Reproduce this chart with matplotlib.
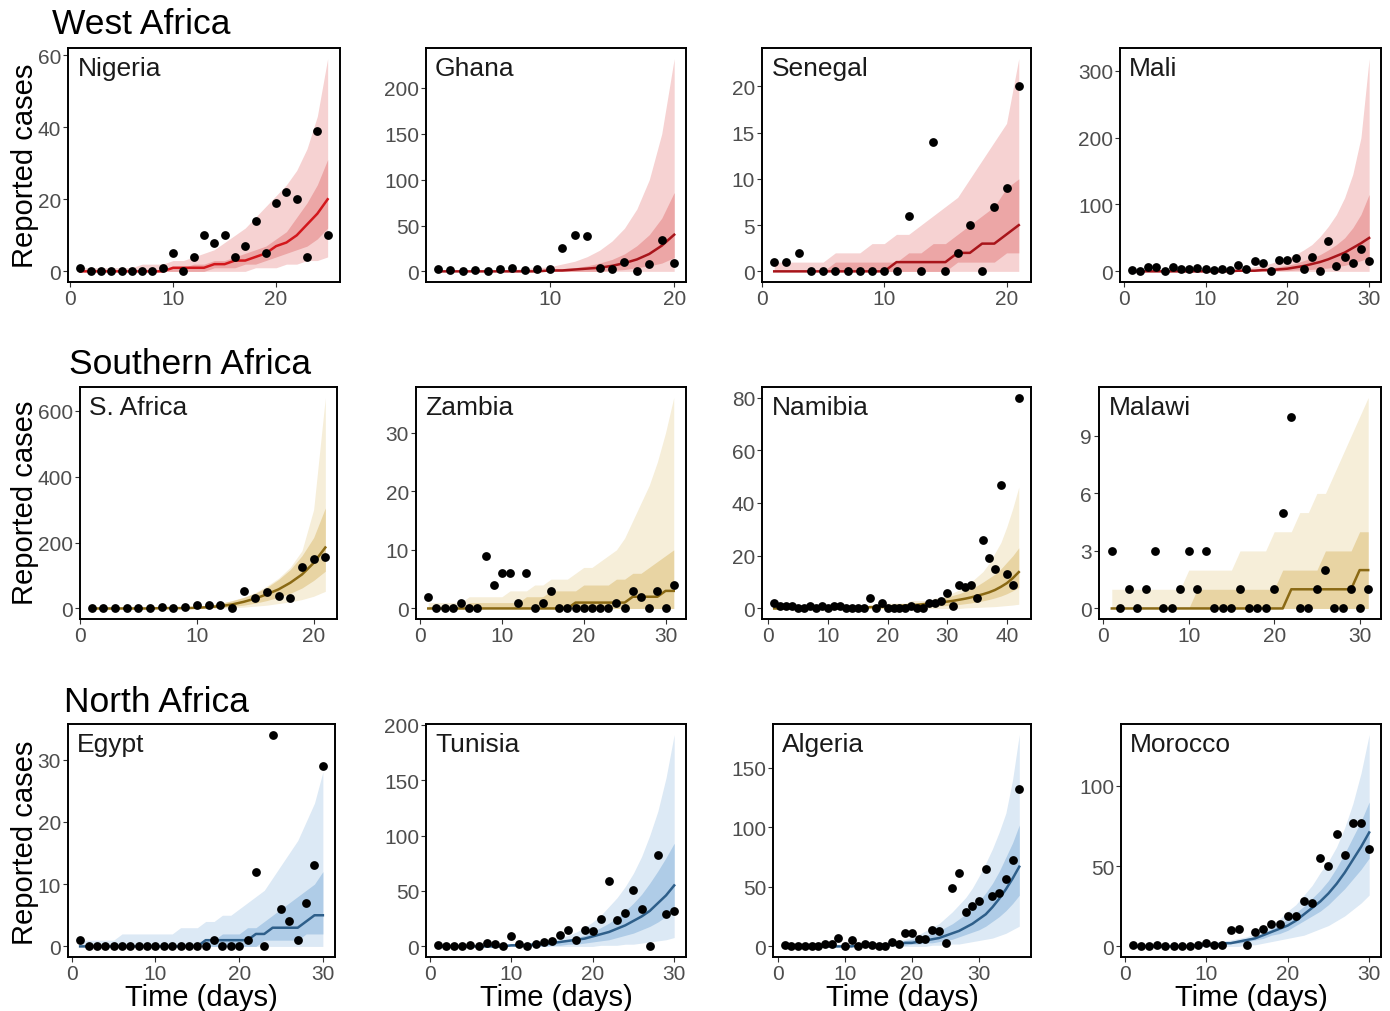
import numpy as np
import matplotlib
matplotlib.use("Agg")
import matplotlib.pyplot as plt
from matplotlib.ticker import MultipleLocator

plt.rcParams['font.family'] = ['Liberation Sans', 'DejaVu Sans']

# -----------------------------
# Data (daily reported cases, model median and 50% / 95% bands)
# -----------------------------
nigeria_cases = [1, 0, 0, 0, 0, 0, 0, 0, 1, 5, 0, 4, 10, 8, 10, 4, 7, 14, 5, 19, 22, 20, 4, 39, 10]
nigeria_med = [0, 0, 0, 0, 0, 0, 0, 0, 0, 1, 1, 1, 1, 2, 2, 3, 3, 4, 5, 7, 8, 10, 13, 16, 20]
nigeria_lo95 = [0, 0, 0, 0, 0, 0, 0, 0, 0, 0, 0, 0, 0, 0, 0, 0, 0, 1, 1, 1, 2, 2, 3, 3, 4]
nigeria_lo50 = [0, 0, 0, 0, 0, 0, 0, 0, 0, 0, 0, 0, 0, 1, 1, 1, 2, 2, 3, 4, 5, 6, 7, 9, 12]
nigeria_hi50 = [0, 0, 0, 0, 0, 0, 0, 0, 1, 1, 1, 2, 2, 3, 3, 4, 5, 6, 7, 9, 11, 15, 19, 24, 31]
nigeria_hi95 = [1, 1, 1, 1, 1, 1, 2, 2, 2, 3, 3, 4, 5, 6, 8, 10, 12, 15, 18, 21, 24, 28, 34, 43, 59]

ghana_cases = [3, 2, 0, 1, 0, 3, 4, 2, 3, 3, 26, 40, 39, 4, 3, 10, 0, 8, 34, 9]
ghana_med = [0, 0, 0, 0, 0, 0, 0, 0, 0, 1, 1, 2, 3, 4, 6, 9, 13, 19, 28, 40]
ghana_lo95 = [0, 0, 0, 0, 0, 0, 0, 0, 0, 0, 0, 0, 0, 0, 0, 0, 0, 0, 0, 0]
ghana_lo50 = [0, 0, 0, 0, 0, 0, 0, 0, 0, 0, 0, 0, 0, 0, 1, 2, 4, 6, 9, 15]
ghana_hi50 = [0, 0, 0, 0, 0, 0, 1, 1, 1, 2, 3, 4, 6, 9, 13, 19, 28, 40, 58, 86]
ghana_hi95 = [1, 1, 1, 1, 1, 1, 2, 3, 4, 5, 8, 11, 16, 23, 33, 47, 68, 100, 150, 232]

senegal_cases = [1, 1, 2, 0, 0, 0, 0, 0, 0, 0, 0, 6, 0, 14, 0, 2, 5, 0, 7, 9, 20]
senegal_med = [0, 0, 0, 0, 0, 0, 0, 0, 0, 0, 1, 1, 1, 1, 1, 2, 2, 3, 3, 4, 5]
senegal_lo95 = [0, 0, 0, 0, 0, 0, 0, 0, 0, 0, 0, 0, 0, 0, 0, 0, 0, 0, 0, 0, 0]
senegal_lo50 = [0, 0, 0, 0, 0, 0, 0, 0, 0, 0, 0, 0, 0, 0, 0, 1, 1, 1, 1, 2, 2]
senegal_hi50 = [0, 0, 0, 0, 0, 1, 1, 1, 1, 1, 1, 2, 2, 3, 3, 4, 5, 6, 7, 9, 10]
senegal_hi95 = [1, 1, 1, 1, 1, 2, 2, 2, 3, 3, 4, 4, 5, 6, 7, 8, 10, 12, 14, 16, 23]

mali_cases = [2, 1, 7, 7, 0, 7, 3, 3, 5, 3, 2, 4, 2, 9, 3, 15, 13, 0, 17, 17, 20, 4, 22, 0, 45, 8, 21, 12, 34, 16]
mali_med = [0, 0, 0, 0, 0, 0, 0, 0, 0, 0, 0, 0, 0, 1, 1, 1, 2, 2, 3, 4, 6, 8, 11, 14, 18, 23, 28, 35, 42, 50]
mali_lo95 = [0, 0, 0, 0, 0, 0, 0, 0, 0, 0, 0, 0, 0, 0, 0, 0, 0, 0, 0, 0, 0, 0, 0, 0, 0, 0, 0, 0, 0, 0]
mali_lo50 = [0, 0, 0, 0, 0, 0, 0, 0, 0, 0, 0, 0, 0, 0, 0, 0, 0, 1, 1, 1, 2, 2, 3, 4, 5, 7, 9, 12, 16, 20]
mali_hi50 = [0, 0, 0, 0, 0, 0, 0, 0, 0, 1, 1, 1, 1, 2, 2, 3, 4, 5, 7, 9, 12, 16, 20, 25, 32, 40, 50, 65, 85, 115]
mali_hi95 = [1, 1, 1, 1, 1, 1, 1, 1, 2, 2, 2, 3, 3, 4, 5, 7, 9, 12, 16, 20, 25, 32, 40, 52, 67, 85, 110, 145, 200, 318]

safrica_cases = [0, 0, 0, 1, 0, 2, 3, 2, 5, 12, 11, 10, 0, 54, 33, 50, 38, 33, 127, 150, 155]
safrica_med = [0, 0, 0, 0, 0, 0, 1, 1, 1, 2, 4, 7, 12, 20, 30, 43, 58, 78, 103, 138, 185]
safrica_lo95 = [0, 0, 0, 0, 0, 0, 0, 0, 0, 0, 0, 1, 2, 4, 7, 10, 15, 20, 27, 37, 52]
safrica_lo50 = [0, 0, 0, 0, 0, 0, 0, 0, 0, 1, 2, 3, 6, 10, 16, 24, 34, 46, 62, 85, 113]
safrica_hi50 = [0, 0, 0, 0, 1, 1, 1, 2, 3, 5, 9, 15, 23, 33, 46, 64, 88, 118, 160, 215, 305]
safrica_hi95 = [1, 1, 1, 1, 1, 2, 2, 3, 4, 6, 10, 16, 24, 34, 48, 68, 92, 125, 175, 300, 640]

zambia_cases = [2, 0, 0, 0, 1, 0, 0, 9, 4, 6, 6, 1, 6, 0, 1, 3, 0, 0, 0, 0, 0, 0, 0, 1, 0, 3, 2, 0, 3, 0, 4]
zambia_med = [0, 0, 0, 0, 0, 0, 0, 0, 0, 0, 0, 0, 0, 0, 0, 0, 0, 0, 1, 1, 1, 1, 1, 1, 1, 2, 2, 2, 2, 3, 3]
zambia_lo95 = [0, 0, 0, 0, 0, 0, 0, 0, 0, 0, 0, 0, 0, 0, 0, 0, 0, 0, 0, 0, 0, 0, 0, 0, 0, 0, 0, 0, 0, 0, 0]
zambia_lo50 = [0, 0, 0, 0, 0, 0, 0, 0, 0, 0, 0, 0, 0, 0, 0, 0, 0, 0, 0, 0, 0, 0, 0, 0, 0, 0, 0, 0, 0, 0, 0]
zambia_hi50 = [0, 0, 0, 0, 0, 1, 1, 1, 1, 1, 1, 1, 2, 2, 2, 3, 3, 3, 3, 4, 4, 4, 4, 5, 5, 6, 6, 7, 8, 9, 10]
zambia_hi95 = [1, 1, 1, 1, 1, 2, 2, 2, 2, 2, 3, 3, 3, 4, 4, 5, 5, 5, 6, 7, 7, 8, 9, 10, 12, 15, 18, 21, 25, 30, 36]

namibia_cases = [2, 1, 1, 1, 0, 0, 1, 0, 1, 0, 1, 1, 0, 0, 0, 0, 4, 0, 2, 0, 0,
                 0, 0, 1, 0, 0, 2, 2, 3, 6, 1, 9, 8, 9, 4, 26, 19, 15, 47, 13, 9, 80]
namibia_med = [0, 0, 0, 0, 0, 0, 0, 0, 0, 0, 0, 0, 0, 0, 0, 0, 0.5, 0.6, 0.7, 0.8, 0.9,
               1.0, 1.1, 1.2, 1.4, 1.6, 1.8, 2.0, 2.3, 2.6, 2.9, 3.3, 3.7, 4.2, 4.8, 5.4, 6.1, 7.0, 8.2, 9.6, 11.5, 13.8]
namibia_lo95 = [0, 0, 0, 0, 0, 0, 0, 0, 0, 0, 0, 0, 0, 0, 0, 0, 0, 0, 0, 0, 0,
                0, 0, 0, 0, 0, 0, 0, 0, 0, 0, 0, 0.2, 0.3, 0.4, 0.5, 0.6, 0.7, 0.9, 1.1, 1.3, 1.6]
namibia_lo50 = [0, 0, 0, 0, 0, 0, 0, 0, 0, 0, 0, 0, 0, 0, 0, 0, 0, 0, 0, 0, 0,
                0, 0, 0, 0.5, 0.6, 0.7, 0.8, 1, 1.1, 1.3, 1.5, 1.8, 2.1, 2.5, 2.9, 3.4, 4, 4.7, 5.6, 6.7, 8]
namibia_hi50 = [0.5, 0.5, 0.5, 0.5, 0.5, 0.5, 0.5, 0.5, 0.5, 0.5, 0.5, 0.5, 0.5, 0.5, 0.5, 0.5, 0.5, 1, 1.1, 1.2, 1.4,
                1.5, 1.7, 2.0, 2.2, 2.5, 2.9, 3.3, 3.8, 4.3, 5.0, 5.6, 6.5, 7.5, 8.6, 10, 11.5, 13, 15, 17.5, 20, 23]
namibia_hi95 = [1, 1, 1, 1, 1, 1, 1, 1, 1, 1, 1, 1, 1, 1, 1, 1, 1, 1, 2, 2, 2,
                2, 2, 3, 3, 3, 3, 4, 4, 5, 6, 7, 8, 10, 12, 14, 17, 21, 25, 31, 38, 46]

malawi_cases = [3, 0, 1, 0, 1, 3, 0, 0, 1, 3, 1, 3, 0, 0, 0, 1, 0, 0, 0, 1, 5, 10, 0, 0, 1, 2, 0, 0, 1, 0, 1]
malawi_med = [0, 0, 0, 0, 0, 0, 0, 0, 0, 0, 0, 0, 0, 0, 0, 0, 0, 0, 0, 0, 0, 1, 1, 1, 1, 1, 1, 1, 1, 2, 2]
malawi_lo95 = [0, 0, 0, 0, 0, 0, 0, 0, 0, 0, 0, 0, 0, 0, 0, 0, 0, 0, 0, 0, 0, 0, 0, 0, 0, 0, 0, 0, 0, 0, 0]
malawi_lo50 = [0, 0, 0, 0, 0, 0, 0, 0, 0, 0, 0, 0, 0, 0, 0, 0, 0, 0, 0, 0, 0, 0, 0, 0, 0, 0, 0, 0, 0, 0, 0]
malawi_hi50 = [0, 0, 0, 0, 0, 0, 0, 0, 0, 0, 1, 1, 1, 1, 1, 1, 1, 1, 1, 1, 2, 2, 2, 2, 2, 3, 3, 3, 3, 4, 4]
malawi_hi95 = [1, 1, 1, 1, 1, 1, 1, 1, 1, 2, 2, 2, 2, 2, 2, 3, 3, 3, 3, 4, 4, 4, 5, 5, 6, 6, 7, 8, 9, 10, 11]

egypt_cases = [1, 0, 0, 0, 0, 0, 0, 0, 0, 0, 0, 0, 0, 0, 0, 0, 1, 0, 0, 0, 1, 12, 0, 34, 6, 4, 1, 7, 13, 29]
egypt_med = [0, 0, 0, 0, 0, 0, 0, 0, 0, 0, 0, 0, 0, 0, 0, 1, 1, 1, 1, 1, 1, 2, 2, 3, 3, 3, 3, 4, 5, 5]
egypt_lo95 = [0, 0, 0, 0, 0, 0, 0, 0, 0, 0, 0, 0, 0, 0, 0, 0, 0, 0, 0, 0, 0, 0, 0, 0, 0, 0, 0, 0, 0, 0]
egypt_lo50 = [0, 0, 0, 0, 0, 0, 0, 0, 0, 0, 0, 0, 0, 0, 0, 0, 0, 0, 0, 0, 0, 0, 1, 1, 1, 1, 1, 2, 2, 2]
egypt_hi50 = [0, 0, 0, 0, 0, 0, 0, 0, 0, 0, 0, 0, 0, 0, 0, 1, 1, 2, 2, 2, 3, 3, 4, 5, 6, 7, 8, 9, 10, 12]
egypt_hi95 = [1, 1, 1, 1, 1, 2, 2, 2, 2, 2, 2, 2, 3, 3, 3, 4, 4, 5, 5, 6, 7, 8, 9, 11, 13, 15, 17, 20, 23, 28]

tunisia_cases = [1, 0, 0, 0, 1, 0, 3, 2, 0, 9, 2, 0, 2, 4, 5, 10, 15, 6, 15, 14, 25, 59, 24, 30, 51, 34, 0, 82, 29, 32]
tunisia_med = [0, 0, 0, 0, 0, 0, 0, 0, 0, 1, 1, 1, 2, 2, 3, 4, 5, 6, 7, 9, 11, 13, 16, 19, 23, 27, 32, 39, 46, 55]
tunisia_lo95 = [0, 0, 0, 0, 0, 0, 0, 0, 0, 0, 0, 0, 0, 0, 0, 0, 0, 0, 0, 0, 1, 1, 1, 2, 2, 3, 4, 5, 6, 8]
tunisia_lo50 = [0, 0, 0, 0, 0, 0, 0, 0, 0, 0, 0, 0, 0, 0, 1, 1, 2, 2, 3, 4, 5, 6, 8, 10, 12, 15, 18, 22, 27, 32]
tunisia_hi50 = [0, 0, 0, 0, 0, 0, 1, 1, 1, 1, 1, 2, 2, 3, 4, 5, 6, 8, 10, 13, 17, 21, 26, 32, 39, 47, 57, 68, 80, 93]
tunisia_hi95 = [1, 1, 1, 1, 1, 1, 1, 2, 2, 2, 2, 3, 4, 5, 6, 8, 10, 13, 17, 22, 28, 36, 44, 54, 66, 81, 100, 122, 152, 191]

algeria_cases = [1, 0, 0, 0, 0, 0, 2, 2, 7, 0, 5, 0, 2, 1, 0, 0, 4, 2, 11, 11,
                 6, 6, 14, 13, 3, 49, 62, 29, 34, 38, 65, 42, 45, 57, 73, 132]
algeria_med = [0, 0, 0, 0, 0, 0, 0, 0, 0, 0, 0, 1, 1, 1, 1, 1, 2, 2, 3, 3,
               4, 5, 6, 7, 9, 11, 13, 16, 19, 23, 27, 33, 40, 48, 57, 67]
algeria_lo95 = [0, 0, 0, 0, 0, 0, 0, 0, 0, 0, 0, 0, 0, 0, 0, 0, 0, 0, 0, 0,
                0, 0, 1, 1, 1, 2, 2, 3, 4, 5, 6, 7, 9, 11, 14, 17]
algeria_lo50 = [0, 0, 0, 0, 0, 0, 0, 0, 0, 0, 0, 0, 0, 0, 0, 0, 1, 1, 1, 2,
                2, 3, 3, 4, 5, 6, 8, 10, 12, 14, 17, 21, 25, 30, 36, 43]
algeria_hi50 = [0, 0, 0, 0, 0, 0, 0, 0, 0, 1, 1, 1, 1, 1, 2, 2, 3, 4, 5, 6,
                7, 9, 11, 13, 16, 19, 23, 27, 32, 38, 45, 53, 63, 75, 87, 102]
algeria_hi95 = [1, 1, 1, 1, 1, 1, 1, 1, 1, 2, 2, 2, 2, 2, 3, 3, 4, 5, 6, 8,
                10, 13, 16, 19, 24, 29, 35, 41, 49, 59, 70, 82, 96, 112, 140, 178]

morocco_cases = [1, 0, 0, 1, 0, 0, 0, 0, 1, 2, 1, 1, 10, 11, 1, 9, 11, 14, 14, 19, 19, 28, 27, 55, 50, 70, 57, 77, 77, 61]
morocco_med = [0, 0, 0, 0, 0, 0, 0, 0, 1, 1, 1, 2, 2, 3, 4, 5, 7, 9, 11, 13, 16, 20, 24, 28, 33, 39, 46, 54, 62, 71]
morocco_lo95 = [0, 0, 0, 0, 0, 0, 0, 0, 0, 0, 0, 0, 0, 0, 1, 1, 2, 3, 4, 5, 6, 7, 9, 11, 13, 16, 19, 23, 27, 32]
morocco_lo50 = [0, 0, 0, 0, 0, 0, 0, 0, 0, 0, 0, 1, 2, 2, 3, 4, 5, 7, 8, 10, 13, 16, 19, 22, 26, 31, 36, 42, 48, 55]
morocco_hi50 = [0, 0, 0, 0, 0, 0, 0, 1, 1, 1, 1, 2, 3, 4, 5, 6, 8, 11, 14, 17, 21, 25, 30, 35, 41, 49, 58, 68, 78, 90]
morocco_hi95 = [1, 1, 1, 1, 1, 1, 1, 1, 2, 2, 2, 3, 4, 5, 6, 8, 10, 13, 17, 22, 26, 32, 38, 46, 53, 62, 74, 89, 108, 132]

regions = ["West Africa", "Southern Africa", "North Africa"]
countries = [
    ["Nigeria", "Ghana", "Senegal", "Mali"],
    ["S. Africa", "Zambia", "Namibia", "Malawi"],
    ["Egypt", "Tunisia", "Algeria", "Morocco"],
]
series = {
    "Nigeria": (nigeria_cases, nigeria_med, nigeria_lo95, nigeria_lo50, nigeria_hi50, nigeria_hi95),
    "Ghana": (ghana_cases, ghana_med, ghana_lo95, ghana_lo50, ghana_hi50, ghana_hi95),
    "Senegal": (senegal_cases, senegal_med, senegal_lo95, senegal_lo50, senegal_hi50, senegal_hi95),
    "Mali": (mali_cases, mali_med, mali_lo95, mali_lo50, mali_hi50, mali_hi95),
    "S. Africa": (safrica_cases, safrica_med, safrica_lo95, safrica_lo50, safrica_hi50, safrica_hi95),
    "Zambia": (zambia_cases, zambia_med, zambia_lo95, zambia_lo50, zambia_hi50, zambia_hi95),
    "Namibia": (namibia_cases, namibia_med, namibia_lo95, namibia_lo50, namibia_hi50, namibia_hi95),
    "Malawi": (malawi_cases, malawi_med, malawi_lo95, malawi_lo50, malawi_hi50, malawi_hi95),
    "Egypt": (egypt_cases, egypt_med, egypt_lo95, egypt_lo50, egypt_hi50, egypt_hi95),
    "Tunisia": (tunisia_cases, tunisia_med, tunisia_lo95, tunisia_lo50, tunisia_hi50, tunisia_hi95),
    "Algeria": (algeria_cases, algeria_med, algeria_lo95, algeria_lo50, algeria_hi50, algeria_hi95),
    "Morocco": (morocco_cases, morocco_med, morocco_lo95, morocco_lo50, morocco_hi50, morocco_hi95),
}
y_steps = {
    "Nigeria": 20, "Ghana": 50, "Senegal": 5, "Mali": 100,
    "S. Africa": 200, "Zambia": 10, "Namibia": 20, "Malawi": 3,
    "Egypt": 10, "Tunisia": 50, "Algeria": 50, "Morocco": 50,
}

# -----------------------------
# Style / layout
# -----------------------------
W, H = 1390, 1012
palette = [
    {"light": "#f6d2d2", "dark": "#eca6a6", "line": "#a8141a"},
    {"light": "#f6eed9", "dark": "#e8d4a3", "line": "#8a6914"},
    {"light": "#dce9f5", "dark": "#afcce7", "line": "#2e5f8a"},
]
# panel boxes in pixels: left, top, right, bottom
boxes = [
    [(68, 49, 340, 283), (426, 49, 686, 283), (762, 49, 1031, 283), (1120, 49, 1381, 283)],
    [(80, 388, 337, 620), (416, 388, 686, 620), (762, 388, 1031, 620), (1099, 388, 1381, 620)],
    [(68, 725, 335, 958), (426, 725, 686, 958), (773, 725, 1031, 958), (1121, 725, 1381, 958)],
]
region_pos = [(52, 25), (69, 365), (64, 703)]
ylabel_y = [166, 503, 843]
xlabel_y = 998

fig = plt.figure(figsize=(W / 100, H / 100), dpi=100)

for r in range(3):
    col = palette[r]
    for c in range(4):
        name = countries[r][c]
        cases, med, lo95, lo50, hi50, hi95 = series[name]
        days = np.arange(1, len(cases) + 1)
        l, t, rr, b = boxes[r][c]
        ax = fig.add_axes([l / W, 1 - b / H, (rr - l) / W, (b - t) / H])

        line_color = "#d3171c" if name == "Nigeria" else col["line"]
        ax.fill_between(days, lo95, hi95, color=col["light"], lw=0, zorder=1)
        ax.fill_between(days, lo50, hi50, color=col["dark"], lw=0, zorder=2)
        ax.plot(days, med, color=line_color, lw=1.8, zorder=3)
        ax.scatter(days, cases, s=40, color="black", zorder=4, lw=0)

        ax.xaxis.set_major_locator(MultipleLocator(10))
        ax.yaxis.set_major_locator(MultipleLocator(y_steps[name]))
        ax.tick_params(labelsize=15, labelcolor="#4d4d4d", color="#333333",
                       length=3.5, width=0.8, pad=1.5)
        for sp in ax.spines.values():
            sp.set_linewidth(1.4)
            sp.set_color("black")

        ax.text(0.035, 0.965, name, transform=ax.transAxes, ha="left", va="top",
                fontsize=19, color="#1a1a1a")

        if r == 2:
            ax.set_xlabel("Time (days)", fontsize=21, va="center")
            ax.xaxis.set_label_coords(0.5, -(xlabel_y - b) / (b - t))

    fig.text(region_pos[r][0] / W, 1 - region_pos[r][1] / H, regions[r],
             fontsize=25.5, ha="left", va="center")
    fig.text(25 / W, 1 - ylabel_y[r] / H, "Reported cases", fontsize=21,
             rotation=90, ha="center", va="center")

fig.savefig("out.png", dpi=100)
